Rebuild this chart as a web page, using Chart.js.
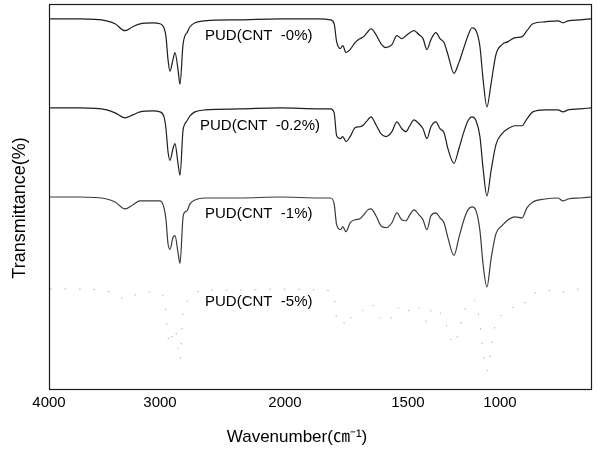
<!DOCTYPE html>
<html>
<head>
<meta charset="utf-8">
<script src="https://cdn.jsdelivr.net/npm/chart.js@4.4.0/dist/chart.umd.min.js"></script>
<style>
  html, body { margin: 0; padding: 0; background: #fff; }
  canvas { display: block; }
</style>
</head>
<body>
<canvas id="ftir" width="598" height="451"></canvas>
<script>
// wavenumbers (cm-1)
const wavenumbers = [3990, 3720, 3480, 3405, 3315, 3245, 3180, 3065, 3000, 2968, 2952, 2936, 2920, 2896, 2880, 2856, 2840, 2816, 2800, 2784, 2760, 2720, 2640, 2360, 2040,
  1860, 1815, 1800, 1790, 1775, 1765, 1752, 1735, 1715, 1695, 1680, 1663, 1650, 1630, 1610, 1590, 1565, 1545, 1525, 1508,
  1490, 1467, 1440, 1418, 1397, 1375, 1348, 1326, 1304, 1283, 1250, 1223, 1196, 1174, 1152, 1130, 1109, 1092, 1071, 1049, 1022,
  991, 965, 935, 904, 883, 857, 804, 748, 726, 704, 652, 604];

// transmittance, curves stacked with offsets (arbitrary units)
const cnt0 = [75, 75, 74.6, 74, 72.6, 73.4, 74, 74.2, 74, 73.2, 71.4, 66.8, 64.4, 66.8, 68.2, 64.8, 61.8, 69.8, 71.6, 72.2, 73.4, 74.2, 74.6, 74.8, 75,
  75, 74.8, 74, 70.4, 69, 69.6, 68.2, 68.8, 70.2, 71, 71.4, 72.4, 73, 71.8, 70, 69.2, 69.8, 71.6, 71, 71.6,
  72.2, 72.6, 71.8, 71, 68.8, 70.8, 72.2, 71, 70.2, 67.8, 64, 66.2, 69.2, 71.6, 73.2, 72.6, 69.4, 62.8, 57.2, 61.8, 67.8,
  69.8, 70.4, 71.2, 71.4, 72.6, 74, 74.4, 74.6, 74.2, 74.6, 74.8, 75];
const cnt02 = [57, 57, 56.6, 56, 55, 55.6, 56.2, 56.4, 56.2, 55.2, 52.8, 48.2, 46.4, 48.8, 49.8, 45.8, 43.4, 52.4, 53.8, 54.4, 55.4, 56.2, 56.6, 56.8, 57,
  56.8, 56.8, 56, 51.4, 50.8, 51.2, 50.2, 51.2, 53, 53.2, 53.6, 54.6, 55.2, 53.6, 51.8, 51.2, 52.2, 54.2, 52.8, 52.2,
  53.4, 54.6, 53.8, 52.8, 50.8, 53.2, 54.2, 52.8, 52, 48.8, 45.8, 48.8, 52.2, 54.4, 55.2, 54.4, 51.2, 44.8, 39.2, 44.2, 49.6,
  51.8, 52.8, 53.4, 53.4, 54.8, 56.2, 56.6, 56.6, 56.2, 56.6, 56.8, 57];
const cnt1 = [39, 39, 38.6, 38, 36.6, 37.4, 38.2, 38.2, 38.2, 36.8, 34.4, 29.6, 28.4, 30.8, 31.2, 27.8, 25.6, 34.8, 36, 36.2, 37.6, 38.4, 38.8, 38.8, 39,
  38.8, 38.8, 37.6, 33.4, 32.4, 33, 32, 33.8, 34.4, 34.6, 35.4, 36.4, 36.6, 35.2, 33.2, 32.8, 33.8, 35.8, 34.4, 34.2,
  35.4, 36.4, 35.4, 34.4, 32.4, 35.2, 35.8, 34.8, 33.8, 30.8, 27.2, 30.8, 34.4, 36.4, 37, 36.2, 32.2, 25.4, 20.8, 26.4, 31.6,
  33.2, 34.4, 35, 34.8, 36.8, 38, 38.6, 38.8, 38.2, 38.6, 38.8, 39];
const cnt5 = [20.4, 20.4, 20, 19.4, 18.4, 19, 19.6, 19.8, 19.6, 18.4, 15.8, 10.8, 9.2, 11.8, 12.4, 8.4, 6, 15.8, 17.2, 17.8, 18.8, 19.6, 20.2, 20.2, 20.4,
  20.2, 20, 18.8, 14.4, 13.6, 14, 12.8, 14.4, 15.2, 15.6, 16.2, 17.2, 17.6, 16, 14.4, 13.6, 14.8, 16.8, 15.6, 15.4,
  16.4, 17.2, 16.6, 15.6, 13.6, 16, 16.8, 15.6, 14.8, 12, 9.2, 12, 15.6, 17.6, 18.2, 17.4, 13.2, 7.8, 3.8, 8.4, 13.8,
  15.2, 16, 16.8, 16.8, 18.4, 19.4, 20, 20.2, 19.8, 20.2, 20.4, 20.4];

const seriesNames = ['PUD(CNT  -0%)', 'PUD(CNT  -0.2%)', 'PUD(CNT  -1%)', 'PUD(CNT  -5%)'];
const tickValues = [4000, 3000, 2000, 1500, 1000];

// where each curve's name sits, in data units
const labelWn = [2640, 2680, 2640, 2640];
const labelT = [71.6, 53.4, 35.6, 17.8];

// the wavenumber axis is stretched below 2000 cm-1, like the instrument printout
const knotWn = [4000, 3000, 2000, 1500, 1000, 600];
const knotPos = [0, 0.2044, 0.4346, 0.661, 0.8306, 1];

function warp(v) {
  for (let i = 0; i < knotWn.length - 1; i++) {
    const a = knotWn[i], b = knotWn[i + 1];
    if (v <= a && v >= b || i === knotWn.length - 2) {
      return knotPos[i] + (a - v) / (a - b) * (knotPos[i + 1] - knotPos[i]);
    }
  }
  return 0;
}
function unwarp(f) {
  for (let i = 0; i < knotPos.length - 1; i++) {
    if (f <= knotPos[i + 1] || i === knotPos.length - 2) {
      const t = (f - knotPos[i]) / (knotPos[i + 1] - knotPos[i]);
      return knotWn[i] - t * (knotWn[i] - knotWn[i + 1]);
    }
  }
  return knotWn[0];
}

class SplitScale extends Chart.LinearScale {
  buildTicks() {
    return tickValues.map(v => ({ value: v }));
  }
  getPixelForValue(v) {
    return this.left + this.width * warp(v);
  }
  getValueForPixel(p) {
    return unwarp((p - this.left) / this.width);
  }
}
SplitScale.id = 'split';
SplitScale.defaults = Chart.LinearScale.defaults;
Chart.register(SplitScale);

const font = '"Liberation Sans", Arial, "Noto Sans CJK SC", sans-serif';

const frameAndText = {
  id: 'frameAndText',
  afterDraw(chart) {
    const { ctx, chartArea: a, scales } = chart;
    ctx.save();
    ctx.strokeStyle = '#1a1a1a';
    ctx.lineWidth = 1.2;
    ctx.strokeRect(a.left + 0.5, a.top + 0.5, a.right - a.left - 1, a.bottom - a.top - 1);

    ctx.fillStyle = '#000';
    ctx.font = '15px ' + font;
    ctx.textAlign = 'left';
    ctx.textBaseline = 'middle';
    seriesNames.forEach((name, i) => {
      ctx.fillText(name, scales.x.getPixelForValue(labelWn[i]), scales.y.getPixelForValue(labelT[i]));
    });

    ctx.font = '17px ' + font;
    ctx.textAlign = 'center';
    ctx.fillText('Wavenumber(\u339D\u207B\u00B9)', 297, 437);

    ctx.translate(20, 208);
    ctx.rotate(-Math.PI / 2);
    ctx.font = '18px ' + font;
    ctx.fillText('Transmittance(%)', 0, 0);
    ctx.restore();
  }
};

function line(data, color, dash, width) {
  return {
    data: data,
    borderColor: color,
    borderWidth: width || 1.2,
    borderDash: dash || [],
    pointRadius: 0,
    fill: false,
    cubicInterpolationMode: 'monotone'
  };
}

new Chart(document.getElementById('ftir'), {
  type: 'line',
  data: {
    labels: wavenumbers,
    datasets: [
      line(cnt0, '#1e1e1e'),
      line(cnt02, '#1e1e1e'),
      line(cnt1, '#3a3a3a'),
      line(cnt5, '#b0b0b0', [1.5, 13], 1)
    ]
  },
  options: {
    responsive: false,
    animation: false,
    layout: { padding: { left: 49, right: 6, top: 4, bottom: 35 } },
    plugins: { legend: { display: false }, tooltip: { enabled: false } },
    scales: {
      x: {
        type: 'split',
        min: 600,
        max: 4000,
        grid: { display: false, drawTicks: false },
        border: { display: false },
        ticks: {
          color: '#000',
          padding: 4,
          maxRotation: 0,
          autoSkip: false,
          font: { family: font, size: 15 },
          callback: v => String(v)
        }
      },
      y: {
        display: false,
        min: 0,
        max: 78
      }
    }
  },
  plugins: [frameAndText]
});
</script>
</body>
</html>
